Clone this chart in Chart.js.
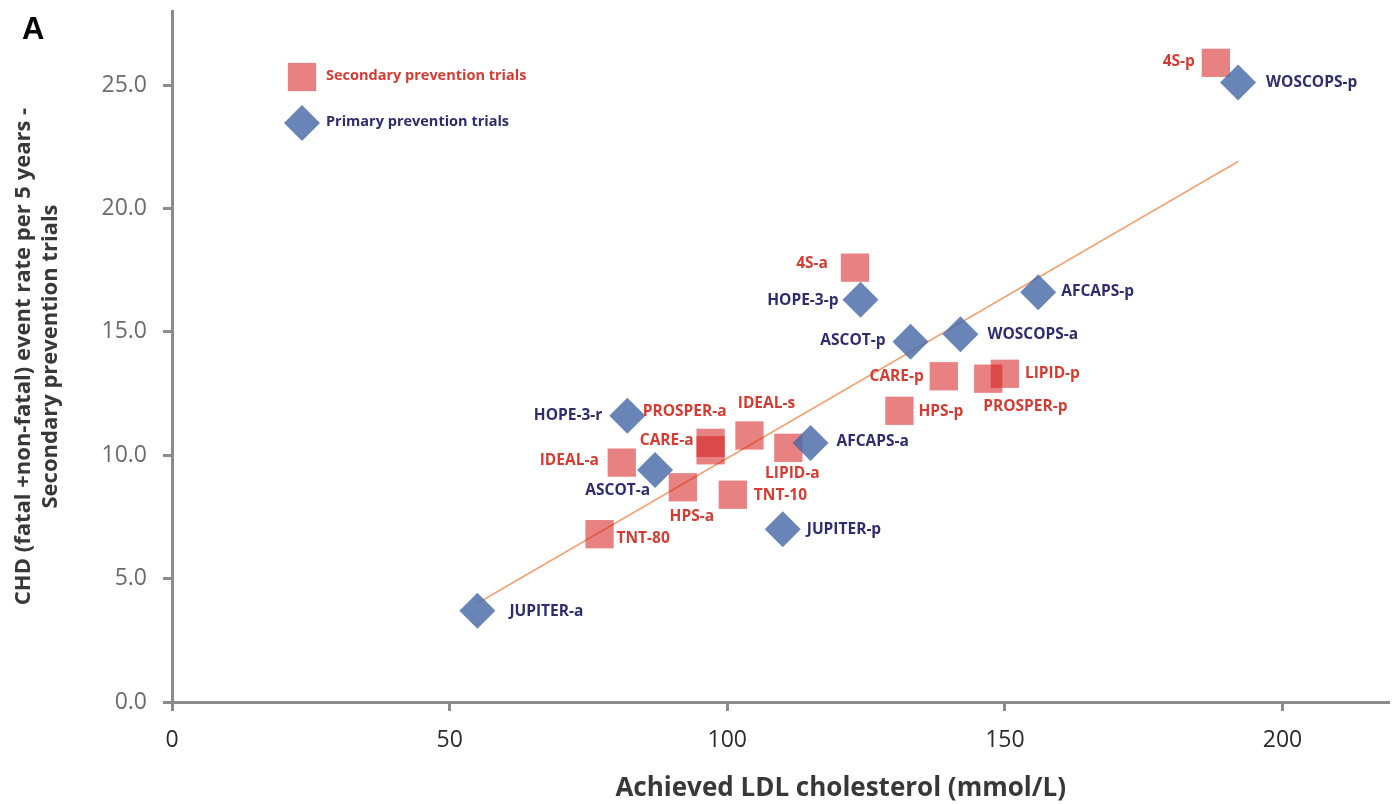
<!DOCTYPE html>
<html>
<head>
<meta charset="utf-8">
<title>Achieved LDL cholesterol vs CHD event rate</title>
<script src="https://cdn.jsdelivr.net/npm/chart.js@4"></script>
<style>
  html, body { margin: 0; padding: 0; background: #ffffff; }
  #wrap { width: 1397px; height: 804px; position: relative; }
</style>
</head>
<body>
<div id="wrap"><canvas id="chart" width="1397" height="804"></canvas></div>
<script>
// Secondary prevention trials (squares)
const secondaryTrials = ['4S-p', '4S-a', 'CARE-p', 'HPS-p', 'PROSPER-p', 'LIPID-p', 'PROSPER-a', 'CARE-a', 'IDEAL-s', 'LIPID-a', 'IDEAL-a', 'HPS-a', 'TNT-10', 'TNT-80'];
const secondaryLDL = [188, 123, 139, 131, 147, 150, 97, 97, 104, 111, 81, 92, 101, 77];
const secondaryRate = [25.9, 17.6, 13.2, 11.8, 13.1, 13.3, 10.5, 10.2, 10.8, 10.3, 9.7, 8.7, 8.4, 6.8];

// Primary prevention trials (diamonds)
const primaryTrials = ['WOSCOPS-p', 'HOPE-3-p', 'ASCOT-p', 'WOSCOPS-a', 'AFCAPS-p', 'HOPE-3-r', 'AFCAPS-a', 'ASCOT-a', 'JUPITER-p', 'JUPITER-a'];
const primaryLDL = [192, 124, 133, 142, 156, 82, 115, 87, 110, 55];
const primaryRate = [25.1, 16.3, 14.6, 14.9, 16.6, 11.6, 10.5, 9.4, 7.0, 3.7];

// Linear trend across the trials
const trendLDL = [55, 192];
const trendRate = [4.0, 21.9];

// Axis ticks
const xTickValues = [0, 50, 100, 150, 200];
const yTickValues = [0, 5, 10, 15, 20, 25];

const seriesNames = ['Secondary prevention trials', 'Primary prevention trials'];
const xAxisTitle = 'Achieved LDL cholesterol (mmol/L)';
const yAxisTitle = ['CHD (fatal +non-fatal) event rate per 5 years -', 'Secondary prevention trials'];

// Where each trial name sits relative to its marker: [textAlign, dx, dy]
const labelPlacement = {
  '4S-p': ['right', -21, -1], 'WOSCOPS-p': ['left', 28, 0],
  '4S-a': ['right', -27, -4], 'HOPE-3-p': ['right', -22, 1],
  'ASCOT-p': ['right', -25, -1], 'CARE-p': ['right', -20, 0],
  'HPS-p': ['left', 19, 1], 'WOSCOPS-a': ['left', 27, 0],
  'AFCAPS-p': ['left', 23, -1], 'LIPID-p': ['left', 20, 0],
  'PROSPER-p': ['left', -5, 28], 'HOPE-3-r': ['right', -25, 0],
  'PROSPER-a': ['center', -26, -31], 'CARE-a': ['right', -17, -10],
  'IDEAL-s': ['center', 17, -32], 'LIPID-a': ['center', 4, 26],
  'AFCAPS-a': ['left', 26, -1], 'IDEAL-a': ['right', -23, -2],
  'ASCOT-a': ['right', -5, 21], 'HPS-a': ['center', 9, 29],
  'TNT-10': ['left', 21, 1], 'JUPITER-p': ['left', 24, 0],
  'TNT-80': ['left', 17, 4], 'JUPITER-a': ['left', 32, 1]
};

// Plot area edges in canvas pixels
const AREA = { left: 172, top: 11, right: 1388, bottom: 702 };

const RED_TEXT = '#d63b32';
const NAVY_TEXT = '#2e2c6e';
const SQUARE_FILL = 'rgba(214, 30, 30, 0.56)';
const DIAMOND_FILL = 'rgba(72, 106, 168, 0.82)';
const AXIS_GREY = '#8a8a8f';
const TITLE_GREY = '#383838';

const toPoints = (xs, ys) => xs.map((x, i) => ({ x: x, y: ys[i] }));

// Trial names next to each marker
const trialLabels = {
  id: 'trialLabels',
  afterDatasetsDraw(chart) {
    const ctx = chart.ctx;
    ctx.save();
    ctx.font = 'bold 15.5px "Open Sans", sans-serif';
    ctx.textBaseline = 'middle';
    chart.data.datasets.forEach((ds, di) => {
      if (!ds.trialNames) return;
      const meta = chart.getDatasetMeta(di);
      ctx.fillStyle = ds.labelColor;
      meta.data.forEach((pt, i) => {
        const name = ds.trialNames[i];
        const p = labelPlacement[name] || ['left', 22, 0];
        ctx.textAlign = p[0];
        ctx.fillText(name, pt.x + p[1], pt.y + p[2]);
      });
    });
    ctx.restore();
  }
};

// Key in the upper-left of the plot, x-axis title and the panel letter
const plotKey = {
  id: 'plotKey',
  afterDraw(chart) {
    const ctx = chart.ctx;
    const area = chart.chartArea;
    ctx.save();
    const entries = [chart.data.datasets[1], chart.data.datasets[0]];
    entries.forEach((ds, k) => {
      const cx = area.left + 130;
      const cy = area.top + 66 + k * 46;
      ctx.fillStyle = ds.backgroundColor;
      Chart.helpers.drawPoint(ctx, {
        pointStyle: ds.pointStyle, radius: ds.pointRadius, borderWidth: 0
      }, cx, cy);
      ctx.font = 'bold 14.5px "Open Sans", sans-serif';
      ctx.fillStyle = ds.labelColor;
      ctx.textAlign = 'left';
      ctx.textBaseline = 'middle';
      ctx.fillText(ds.label, cx + 24, cy - 1);
    });

    ctx.font = 'bold 26px "Open Sans", sans-serif';
    ctx.fillStyle = TITLE_GREY;
    ctx.textAlign = 'right';
    ctx.textBaseline = 'middle';
    ctx.fillText(xAxisTitle, 1066, 789);

    ctx.font = 'bold 31px "Liberation Sans", Arial, sans-serif';
    ctx.fillStyle = '#000000';
    ctx.textAlign = 'left';
    ctx.textBaseline = 'alphabetic';
    ctx.fillText('A', 22, 39);
    ctx.restore();
  }
};

new Chart(document.getElementById('chart'), {
  type: 'scatter',
  data: {
    datasets: [
      {
        label: seriesNames[1],
        data: toPoints(primaryLDL, primaryRate),
        trialNames: primaryTrials,
        labelColor: NAVY_TEXT,
        pointStyle: 'rectRot',
        pointRadius: 18,
        pointHoverRadius: 18,
        backgroundColor: DIAMOND_FILL,
        borderWidth: 0,
        order: 0
      },
      {
        label: seriesNames[0],
        data: toPoints(secondaryLDL, secondaryRate),
        trialNames: secondaryTrials,
        labelColor: RED_TEXT,
        pointStyle: 'rect',
        pointRadius: 20,
        pointHoverRadius: 20,
        backgroundColor: SQUARE_FILL,
        borderWidth: 0,
        order: 1
      },
      {
        type: 'line',
        label: 'Trend',
        data: toPoints(trendLDL, trendRate),
        borderColor: '#f2a273',
        borderWidth: 1.6,
        pointRadius: 0,
        fill: false,
        order: 2
      }
    ]
  },
  options: {
    responsive: false,
    animation: false,
    devicePixelRatio: 1,
    layout: {
      autoPadding: false,
      padding: { top: AREA.top, right: 1397 - AREA.right, left: 0, bottom: 0 }
    },
    plugins: {
      legend: { display: false },
      tooltip: { enabled: false }
    },
    scales: {
      x: {
        type: 'linear',
        min: 0,
        max: 219,
        afterFit(scale) {
          scale.height = 804 - AREA.bottom;
          scale.paddingLeft = 0;
          scale.paddingRight = 0;
        },
        afterBuildTicks(scale) { scale.ticks = xTickValues.map(v => ({ value: v })); },
        border: { color: AXIS_GREY, width: 3 },
        grid: { drawOnChartArea: false, color: AXIS_GREY, lineWidth: 3, tickLength: 9 },
        ticks: {
          includeBounds: false,
          padding: 16,
          color: '#2b2b2b',
          font: { family: '"Open Sans", sans-serif', size: 23 }
        },
        title: { display: false }
      },
      y: {
        type: 'linear',
        min: 0,
        max: 28,
        afterFit(scale) {
          scale.width = AREA.left;
          scale.paddingTop = 0;
          scale.paddingBottom = 0;
        },
        afterBuildTicks(scale) { scale.ticks = yTickValues.map(v => ({ value: v })); },
        border: { color: AXIS_GREY, width: 3 },
        grid: { drawOnChartArea: false, color: AXIS_GREY, lineWidth: 3, tickLength: 9 },
        ticks: {
          includeBounds: false,
          padding: 16,
          color: '#6b6b6b',
          font: { family: '"Open Sans", sans-serif', size: 23 },
          callback: v => v.toFixed(1)
        },
        title: {
          display: true,
          text: yAxisTitle,
          color: TITLE_GREY,
          font: { family: '"Open Sans", sans-serif', size: 22, weight: 'bold', lineHeight: 1.2 },
          padding: { top: 11, bottom: 0 }
        }
      }
    }
  },
  plugins: [trialLabels, plotKey]
});
</script>
</body>
</html>
